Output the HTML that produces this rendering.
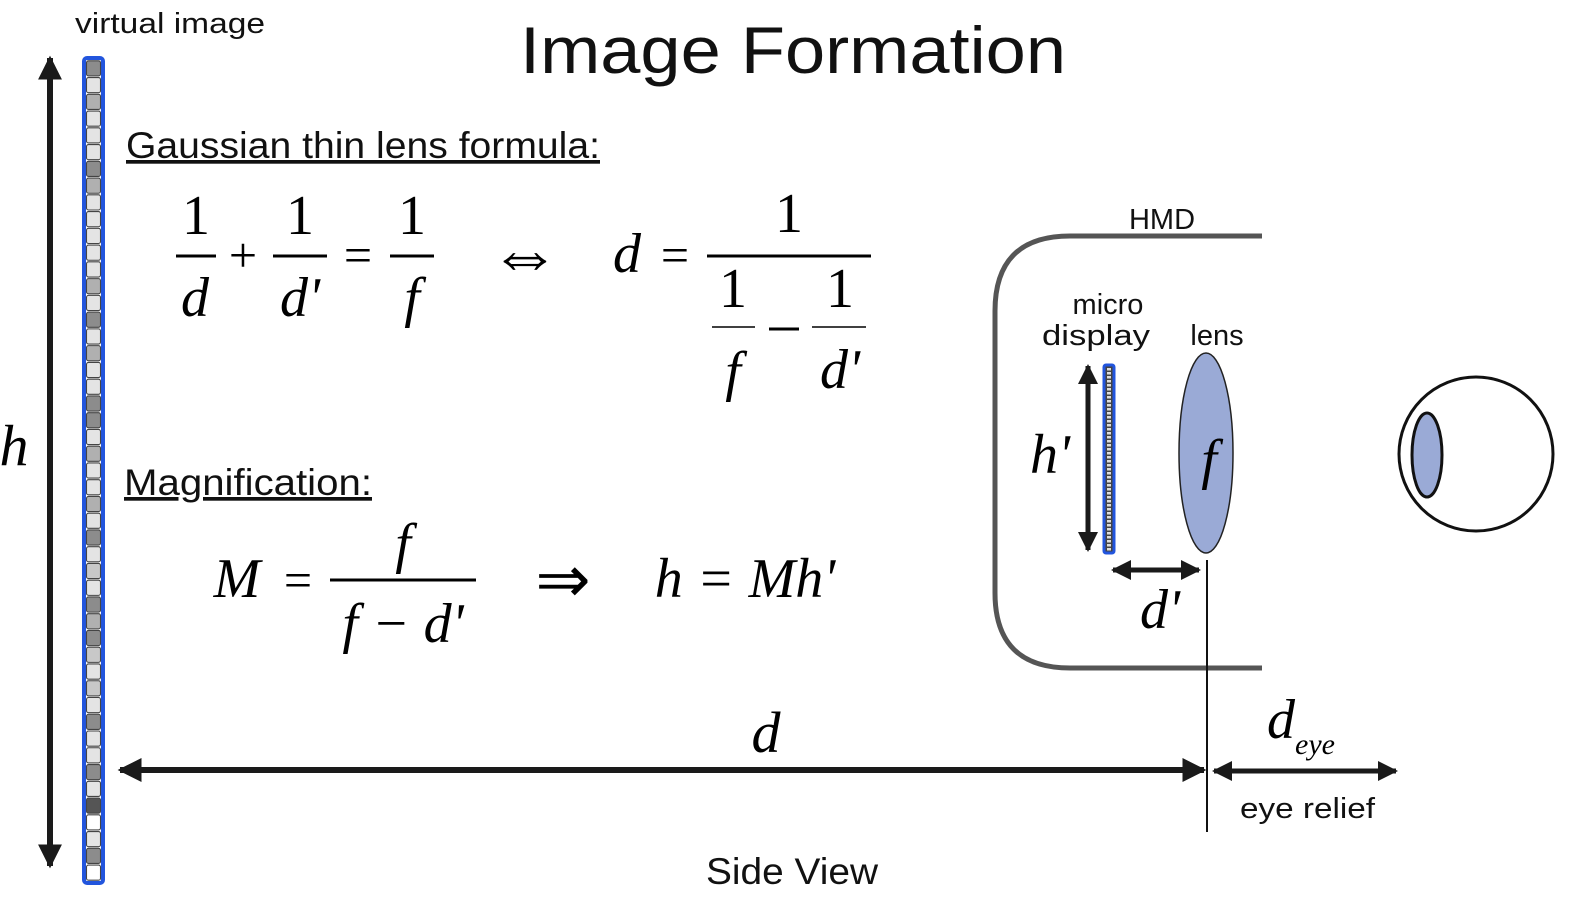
<!DOCTYPE html>
<html><head><meta charset="utf-8"><style>
html,body{margin:0;padding:0;background:#fff}
svg{display:block}
.s{font-family:"Liberation Sans",sans-serif;fill:#111}
.m{font-family:"Liberation Serif",serif;fill:#000}
.i{font-style:italic}
</style></head><body>
<svg id="fig" width="1577" height="901" viewBox="0 0 1577 901" xmlns="http://www.w3.org/2000/svg">
<defs>
<marker id="ah" viewBox="0 0 10 10" refX="9" refY="5" markerWidth="4" markerHeight="4" orient="auto-start-reverse"><path d="M0,0L10,5L0,10z" fill="#1a1a1a"/></marker>
</defs>
<text class="s" x="520" y="73" font-size="66" textLength="546" lengthAdjust="spacingAndGlyphs">Image Formation</text>
<text class="s" x="75" y="33" font-size="29" textLength="190" lengthAdjust="spacingAndGlyphs">virtual image</text>
<line x1="50" y1="58" x2="50" y2="866" stroke="#1a1a1a" stroke-width="6" marker-start="url(#ah)" marker-end="url(#ah)"/>
<text class="m i" x="14" y="465" font-size="58" text-anchor="middle">h</text>
<g id="vbar">
<rect x="84" y="58" width="19" height="825" rx="3" fill="#fff" stroke="#2255dd" stroke-width="4"/>
</g>
<text class="s" x="126" y="158" font-size="37" text-decoration="underline" textLength="474" lengthAdjust="spacingAndGlyphs">Gaussian thin lens formula:</text>
<g>
<text class="m" x="196" y="234" font-size="56" text-anchor="middle">1</text>
<line x1="176" y1="256" x2="216" y2="256" stroke="#000" stroke-width="3"/>
<text class="m i" x="195" y="316" font-size="56" text-anchor="middle">d</text>
<text class="m" x="243" y="272" font-size="50" text-anchor="middle">+</text>
<text class="m" x="300" y="234" font-size="56" text-anchor="middle">1</text>
<line x1="273" y1="256" x2="327" y2="256" stroke="#000" stroke-width="3"/>
<text class="m i" x="300" y="316" font-size="56" text-anchor="middle">d'</text>
<text class="m" x="358" y="272" font-size="50" text-anchor="middle">=</text>
<text class="m" x="412" y="234" font-size="56" text-anchor="middle">1</text>
<line x1="390" y1="256" x2="434" y2="256" stroke="#000" stroke-width="3"/>
<text class="m i" x="412" y="316" font-size="56" text-anchor="middle">f</text>
<text class="m" x="525" y="278" font-size="72" text-anchor="middle" font-family="DejaVu Sans">⇔</text>
<text class="m i" x="627" y="272" font-size="56" text-anchor="middle">d</text>
<text class="m" x="675" y="272" font-size="50" text-anchor="middle">=</text>
<text class="m" x="789" y="232" font-size="56" text-anchor="middle">1</text>
<line x1="707" y1="256" x2="871" y2="256" stroke="#000" stroke-width="3"/>
<text class="m" x="733" y="307" font-size="56" text-anchor="middle">1</text>
<line x1="712" y1="327" x2="755" y2="327" stroke="#000" stroke-width="1.5"/>
<text class="m i" x="733" y="390" font-size="56" text-anchor="middle">f</text>
<line x1="769" y1="329" x2="799" y2="329" stroke="#000" stroke-width="3"/>
<text class="m" x="840" y="307" font-size="56" text-anchor="middle">1</text>
<line x1="812" y1="327" x2="866" y2="327" stroke="#000" stroke-width="1.5"/>
<text class="m i" x="840" y="388" font-size="56" text-anchor="middle">d'</text>
</g>
<text class="s" x="124" y="495" font-size="37" text-decoration="underline" textLength="248" lengthAdjust="spacingAndGlyphs">Magnification:</text>
<g>
<text class="m i" x="237" y="597" font-size="56" text-anchor="middle">M</text>
<text class="m" x="298" y="597" font-size="50" text-anchor="middle">=</text>
<text class="m i" x="403" y="562" font-size="56" text-anchor="middle">f</text>
<line x1="330" y1="580" x2="476" y2="580" stroke="#000" stroke-width="3"/>
<text class="m i" x="403" y="642" font-size="56" text-anchor="middle">f − d'</text>
<text class="m" x="563" y="602" font-size="66" text-anchor="middle" font-family="DejaVu Sans">⇒</text>
<text class="m i" x="745" y="597" font-size="56" text-anchor="middle">h = Mh'</text>
</g>
<text class="s" x="1162" y="229" font-size="29" text-anchor="middle">HMD</text>
<path d="M1262,236 L1070,236 Q995,236 995,311 L995,593 Q995,668 1070,668 L1262,668" fill="none" stroke="#555" stroke-width="5"/>
<text class="s" x="1108" y="314" font-size="29" text-anchor="middle">micro</text>
<text class="s" x="1096" y="345" font-size="29" text-anchor="middle" textLength="108" lengthAdjust="spacingAndGlyphs">display</text>
<text class="s" x="1217" y="345" font-size="29" text-anchor="middle">lens</text>
<line x1="1088" y1="366" x2="1088" y2="550" stroke="#1a1a1a" stroke-width="5" marker-start="url(#ah)" marker-end="url(#ah)"/>
<text class="m i" x="1050" y="473" font-size="56" text-anchor="middle">h'</text>
<g id="mdisp">
<rect x="1104" y="365" width="10" height="188" rx="2" fill="#444" stroke="#2255dd" stroke-width="3"/>
</g>
<ellipse cx="1206" cy="453" rx="27" ry="100" fill="#9aaad6" stroke="#222" stroke-width="1.5"/>
<text class="m i" x="1209" y="478" font-size="56" text-anchor="middle">f</text>
<line x1="1113" y1="570" x2="1199" y2="570" stroke="#1a1a1a" stroke-width="5" marker-start="url(#ah)" marker-end="url(#ah)"/>
<text class="m i" x="1160" y="628" font-size="56" text-anchor="middle">d'</text>
<line x1="1207" y1="560" x2="1207" y2="832" stroke="#111" stroke-width="2"/>
<line x1="120" y1="770" x2="1204" y2="770" stroke="#1a1a1a" stroke-width="6" marker-start="url(#ah)" marker-end="url(#ah)"/>
<text class="m i" x="766" y="752" font-size="58" text-anchor="middle">d</text>
<line x1="1214" y1="771" x2="1396" y2="771" stroke="#1a1a1a" stroke-width="5" marker-start="url(#ah)" marker-end="url(#ah)"/>
<text class="m i" x="1267" y="738" font-size="56">d<tspan font-size="30" dy="16">eye</tspan></text>
<text class="s" x="1240" y="818" font-size="29" textLength="135" lengthAdjust="spacingAndGlyphs">eye relief</text>
<circle cx="1476" cy="454" r="77" fill="#fff" stroke="#111" stroke-width="3"/>
<ellipse cx="1427" cy="455" rx="15" ry="42" fill="#9aaad6" stroke="#111" stroke-width="3"/>
<text class="s" x="706" y="884" font-size="37" textLength="172" lengthAdjust="spacingAndGlyphs">Side View</text>
</svg>
<script>
// pixel shades of the virtual image, top to bottom
const cellShades = ['#8c8c8c','#e4e4e4','#b0b0b0','#e4e4e4','#e4e4e4','#e4e4e4','#8c8c8c','#b0b0b0','#e4e4e4','#e4e4e4','#e4e4e4','#e4e4e4','#e4e4e4','#b0b0b0','#e4e4e4','#8c8c8c','#e4e4e4','#b0b0b0','#e4e4e4','#e4e4e4','#8c8c8c','#8c8c8c','#e4e4e4','#b0b0b0',
'#e4e4e4','#e4e4e4','#b0b0b0','#e4e4e4','#8c8c8c','#e4e4e4','#c8c8c8','#e4e4e4','#8c8c8c','#b0b0b0','#8c8c8c','#c8c8c8','#e4e4e4','#c8c8c8','#e4e4e4','#8c8c8c','#e4e4e4','#e4e4e4','#8c8c8c','#e4e4e4','#555555','#ffffff','#e4e4e4','#8c8c8c','#ffffff'];
const NS='http://www.w3.org/2000/svg';
const vbar=document.getElementById('vbar');
const top0=60, h0=821, n=cellShades.length, ch=h0/n;
cellShades.forEach((c,i)=>{
  const r=document.createElementNS(NS,'rect');
  r.setAttribute('x',86.5);r.setAttribute('y',top0+i*ch+0.8);
  r.setAttribute('width',14);r.setAttribute('height',ch-1.6);r.setAttribute('rx',2);
  r.setAttribute('fill',c);r.setAttribute('stroke','#444');r.setAttribute('stroke-width',1.1);
  
  
  vbar.appendChild(r);
});
const md=document.getElementById('mdisp');
for(let i=0;i<46;i++){
  const r=document.createElementNS(NS,'rect');
  r.setAttribute('x',1107);r.setAttribute('y',368+i*4);r.setAttribute('width',4);r.setAttribute('height',2.5);
  r.setAttribute('fill','#ddd');
  
  
  md.appendChild(r);
}
</script>
</body></html>
